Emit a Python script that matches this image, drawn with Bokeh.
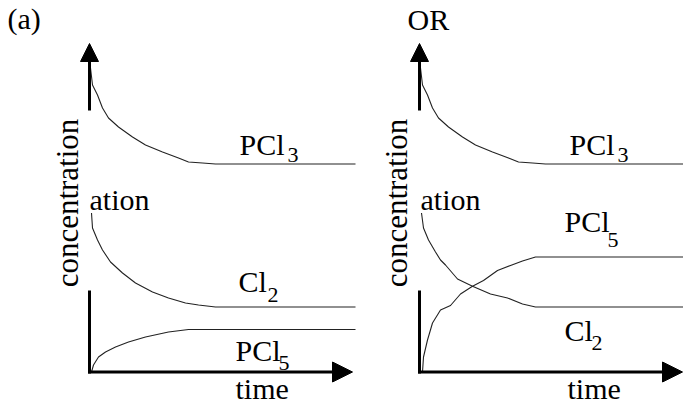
from math import pi
from bokeh.plotting import figure
from bokeh.models import Range1d, Arrow, NormalHead
from bokeh.layouts import row
from bokeh.core.properties import value
from bokeh.embed import file_html
from bokeh.resources import INLINE

# ---------------- data (arbitrary units: time, concentration) ----------------
# left panel (a)
t_pcl3_a = [0.1, 0.3, 0.8, 1.3, 1.9, 2.9, 4.3, 5.6, 7.3, 8.9, 9.9, 11.3, 12.6, 26.6]
c_pcl3_a = [30.4, 28.7, 27.7, 26.4, 25.4, 24.5, 23.5, 22.7, 22.0, 21.4, 21.0, 20.9, 20.8, 20.8]
t_cl2_a = [0.2, 0.3, 0.8, 1.3, 2.1, 3.3, 4.6, 6.3, 7.9, 9.6, 10.9, 12.6, 26.6]
c_cl2_a = [15.9, 14.4, 13.2, 12.2, 11.0, 9.9, 8.9, 8.0, 7.4, 6.9, 6.7, 6.5, 6.5]
t_pcl5_a = [0.2, 0.4, 0.9, 1.6, 2.6, 3.9, 5.6, 7.9, 9.9, 12.6, 26.6]
c_pcl5_a = [0.0, 0.7, 1.5, 2.0, 2.5, 3.0, 3.5, 4.0, 4.25, 4.25, 4.25]

# right panel (OR)
t_pcl3_b = [0.1, 0.3, 0.8, 1.3, 1.9, 2.9, 4.3, 5.6, 7.3, 8.9, 9.9, 11.3, 12.6, 26.4]
c_pcl3_b = [30.4, 28.7, 27.7, 26.4, 25.4, 24.5, 23.5, 22.7, 22.0, 21.4, 21.0, 20.9, 20.8, 20.8]
t_cl2_b = [0.2, 0.4, 0.9, 1.6, 2.1, 2.6, 3.8, 5.3, 7.1, 8.8, 10.3, 11.6, 26.4]
c_cl2_b = [15.9, 14.4, 13.2, 12.0, 11.2, 10.7, 9.3, 8.58, 7.8, 7.4, 6.8, 6.5, 6.5]
t_pcl5_b = [0.3, 0.4, 0.8, 1.3, 2.1, 3.1, 4.1, 5.3, 6.4, 7.8, 9.1, 10.3, 11.6, 26.4]
c_pcl5_b = [0.0, 1.5, 3.2, 4.9, 6.2, 6.65, 7.8, 8.58, 9.15, 10.15, 10.65, 11.1, 11.5, 11.5]

# axis extents
y_axis_low_top = 8.15      # lower part of the concentration axis
y_axis_up_bottom = 26.15   # upper part of the concentration axis
y_axis_tip = 32.85
x_axis_tip_a = 26.3
x_axis_tip_b = 26.3

# text labels: (text, x, y, size)
labels_a = [
    ("(a)", -8.2, 34.25, 30),
    ("ation", 0.0, 16.15, 30),
    ("PCl", 15.0, 21.65, 30), ("3", 19.8, 20.95, 22),
    ("Cl", 14.9, 8.0, 30), ("2", 17.8, 6.95, 22),
    ("PCl", 14.6, 1.1, 30), ("5", 18.9, 0.15, 22),
    ("time", 14.6, -2.75, 30),
]
labels_b = [
    ("OR", -1.2, 34.15, 30),
    ("ation", 0.1, 16.15, 30),
    ("PCl", 15.0, 21.65, 30), ("3", 19.8, 20.95, 22),
    ("PCl", 14.5, 14.0, 30), ("5", 18.8, 12.45, 22),
    ("Cl", 14.5, 3.1, 30), ("2", 17.2, 2.15, 22),
    ("time", 14.8, -2.75, 30),
]
ylabel = "concentration"

FONT = value("Liberation Serif")
INK = "#222222"


def panel(width, xr, curves, labels, x_tip, ylab_x):
    p = figure(width=width, height=404, x_range=Range1d(*xr), y_range=Range1d(-3.25, 37.15),
               output_backend="svg", toolbar_location=None, min_border=0,
               x_axis_location=None, y_axis_location=None)
    p.grid.visible = False
    p.outline_line_color = None
    p.background_fill_color = "white"
    p.border_fill_color = "white"

    # axes
    p.segment(x0=[0], y0=[-0.15], x1=[0], y1=[y_axis_low_top], line_width=3, line_color="black")
    p.add_layout(Arrow(x_start=0, y_start=y_axis_up_bottom, x_end=0, y_end=y_axis_tip,
                       line_width=3, line_color="black",
                       end=NormalHead(size=18, fill_color="black", line_color="black", line_width=1)))
    p.add_layout(Arrow(x_start=-0.15, y_start=0, x_end=x_tip, y_end=0,
                       line_width=3, line_color="black",
                       end=NormalHead(size=20, fill_color="black", line_color="black", line_width=1)))

    for t, c in curves:
        p.line(t, c, line_color=INK, line_width=1.1)

    for txt, x, y, size in labels:
        p.text(x=[x], y=[y], text=[txt], text_font=FONT, text_font_size=value(f"{size}px"),
               text_align="left", text_baseline="alphabetic", text_color="black",
               y_offset=-round(size * 0.37))

    p.text(x=[ylab_x], y=[16.9], text=[ylabel], angle=pi / 2, text_font=FONT,
           text_font_size=value("31px"), text_align="center", text_baseline="alphabetic",
           text_color="black", x_offset=-12)
    return p


pa = panel(360, (-8.9, 27.1),
           [(t_pcl3_a, c_pcl3_a), (t_cl2_a, c_cl2_a), (t_pcl5_a, c_pcl5_a)],
           labels_a, x_axis_tip_a, -1.0)
pb = panel(323, (-5.9, 26.4),
           [(t_pcl3_b, c_pcl3_b), (t_cl2_b, c_cl2_b), (t_pcl5_b, c_pcl5_b)],
           labels_b, x_axis_tip_b, -1.1)

layout = row(pa, pb)
open("out.html", "w").write(file_html(layout, INLINE))
